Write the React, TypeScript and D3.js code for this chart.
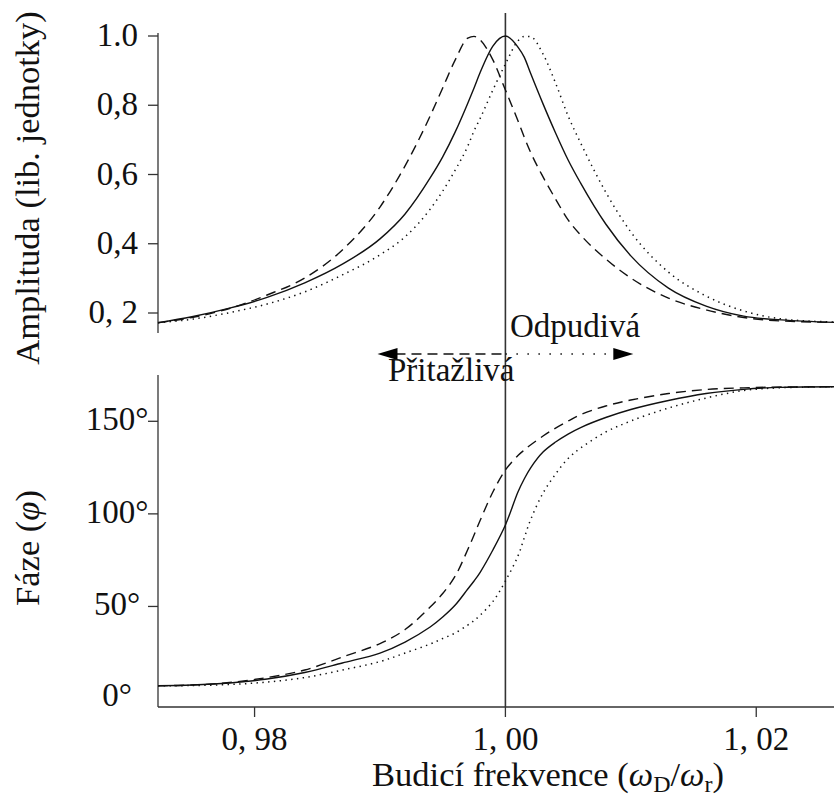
import React from 'react';
import * as d3 from 'd3';

// Driving frequency grid (omega_D / omega_r)
const freq = [0.9723, 0.975, 0.978, 0.981, 0.984, 0.987, 0.99, 0.992, 0.994, 0.995, 0.996, 0.997, 0.9975, 0.998, 0.999, 1.0, 1.001, 1.0015, 1.002, 1.003, 1.004, 1.005, 1.006, 1.008, 1.01, 1.013, 1.016, 1.019, 1.022, 1.0262];

// Amplitude (arb. units)
const ampSolid = [0.172, 0.189, 0.214, 0.245, 0.287, 0.341, 0.414, 0.486, 0.59, 0.651, 0.723, 0.806, 0.85, 0.896, 0.971, 1.0, 0.968, 0.939, 0.893, 0.804, 0.72, 0.642, 0.575, 0.457, 0.365, 0.272, 0.22, 0.191, 0.18, 0.173];
const ampDashed = [0.172, 0.187, 0.213, 0.252, 0.301, 0.382, 0.506, 0.625, 0.769, 0.85, 0.931, 0.994, 0.999, 0.988, 0.931, 0.844, 0.755, 0.708, 0.665, 0.593, 0.529, 0.469, 0.425, 0.356, 0.301, 0.243, 0.209, 0.187, 0.177, 0.173];
const ampDotted = [0.172, 0.182, 0.201, 0.226, 0.261, 0.31, 0.368, 0.42, 0.5, 0.552, 0.613, 0.682, 0.726, 0.763, 0.844, 0.919, 0.986, 0.999, 0.998, 0.948, 0.864, 0.769, 0.691, 0.549, 0.434, 0.318, 0.249, 0.206, 0.183, 0.174];

// Phase (degrees)
const phaseSolid = [7.18, 7.56, 8.64, 10.8, 14.31, 19.44, 24.84, 30.78, 38.89, 44.29, 50.77, 59.41, 63.73, 68.59, 80.47, 93.97, 111.79, 118.82, 124.76, 133.4, 138.8, 143.12, 146.63, 152.03, 156.35, 161.21, 164.99, 167.26, 168.34, 168.66];
const phaseDashed = [7.18, 7.56, 8.91, 11.61, 15.66, 22.68, 29.97, 37.53, 49.69, 56.98, 66.43, 80.74, 88.57, 96.67, 111.79, 123.68, 131.51, 134.48, 137.18, 142.04, 146.36, 150.14, 153.65, 158.24, 161.48, 164.99, 167.15, 168.07, 168.5, 168.66];
const phaseDotted = [7.18, 7.29, 7.83, 9.18, 11.61, 15.66, 20.25, 24.84, 29.7, 32.67, 35.65, 39.97, 42.4, 45.37, 52.66, 63.73, 77.23, 86.95, 96.67, 111.25, 121.52, 129.89, 135.56, 144.2, 150.14, 157.16, 162.56, 166.62, 168.12, 168.66];

const ampTicks = [0.2, 0.4, 0.6, 0.8, 1.0];
const ampTickLabels = ['0, 2', '0,4', '0,6', '0,8', '1.0'];
const phaseTicks = [0, 50, 100, 150];
const phaseTickLabels = ['0°', '50°', '100°', '150°'];
const phaseTickMarks = [50, 100, 150];
const freqTicks = [0.98, 1.0, 1.02];
const freqTickLabels = ['0, 98', '1, 00', '1, 02'];

const arrowLeft = 0.9898;
const arrowRight = 1.0102;

const W = 834;
const H = 803;
const FONT = "'Liberation Serif'";
const FS = 33;
const FT = 34.5;

export default function App() {
  const x = d3.scaleLinear().domain([0.9723, 1.0262]).range([158, 834]);
  const yA = d3.scaleLinear().domain([0.2, 1.0]).range([313, 36]);
  const yP = d3.scaleLinear().domain([-4.3, 175]).range([707, 375]);

  const pts = (ys: number[]) => freq.map((f, i) => [f, ys[i]] as [number, number]);
  const lineA = d3.line<[number, number]>().x(d => x(d[0])).y(d => yA(d[1])).curve(d3.curveMonotoneX);
  const lineP = d3.line<[number, number]>().x(d => x(d[0])).y(d => yP(d[1])).curve(d3.curveCatmullRom.alpha(0.5));

  const dashed = '10 6';
  const dotted = '1.4 4.4';
  const stroke = '#111';
  const axisColor = '#333';

  const x0 = x(1.0);
  const arrowY = 354;
  const xl = x(arrowLeft);
  const xr = x(arrowRight);
  const ts = { fontFamily: FONT } as React.CSSProperties;

  return (
    <svg width={W} height={H} style={{ position: 'absolute', left: 0, top: 0, background: '#fff' }}>
      <rect x={0} y={0} width={W} height={H} fill="#fff" />
      {/* Top panel axis */}
      <line x1={158} x2={158} y1={33} y2={333} stroke={axisColor} strokeWidth={1.3} />
      {ampTicks.map((t, i) => (
        <g key={'at' + i}>
          <line x1={148} x2={158} y1={yA(t)} y2={yA(t)} stroke={axisColor} strokeWidth={1.3} />
          <text style={ts} x={138} y={yA(t) + 10} textAnchor="end" fontSize={FS} fill="#111">{ampTickLabels[i]}</text>
        </g>
      ))}
      {/* Bottom panel axes */}
      <line x1={158} x2={158} y1={375} y2={707} stroke={axisColor} strokeWidth={1.3} />
      <line x1={158} x2={834} y1={707} y2={707} stroke={axisColor} strokeWidth={1.3} />
      {phaseTickMarks.map((t, i) => (
        <line key={'pm' + i} x1={148} x2={158} y1={yP(t)} y2={yP(t)} stroke={axisColor} strokeWidth={1.3} />
      ))}
      {phaseTicks.map((t, i) => (
        <text style={ts} key={'pt' + i} x={117} y={yP(t) + (t === 0 ? 7 : 9)} textAnchor="middle" fontSize={FS} fill="#111">{phaseTickLabels[i]}</text>
      ))}
      {freqTicks.map((t, i) => (
        <g key={'ft' + i}>
          <line x1={x(t)} x2={x(t)} y1={707} y2={717} stroke={axisColor} strokeWidth={1.3} />
          <text style={ts} x={x(t)} y={750} textAnchor="middle" fontSize={FS} fill="#111">{freqTickLabels[i]}</text>
        </g>
      ))}

      {/* Vertical resonance line */}
      <line x1={x0} x2={x0} y1={13} y2={707} stroke="#333" strokeWidth={1.6} />

      {/* Amplitude curves */}
      <path d={lineA(pts(ampSolid)) || ''} fill="none" stroke={stroke} strokeWidth={1.4} />
      <path d={lineA(pts(ampDashed)) || ''} fill="none" stroke={stroke} strokeWidth={1.4} strokeDasharray={dashed} />
      <path d={lineA(pts(ampDotted)) || ''} fill="none" stroke={stroke} strokeWidth={1.5} strokeDasharray={dotted} />

      {/* Phase curves */}
      <path d={lineP(pts(phaseSolid)) || ''} fill="none" stroke={stroke} strokeWidth={1.4} />
      <path d={lineP(pts(phaseDashed)) || ''} fill="none" stroke={stroke} strokeWidth={1.4} strokeDasharray={dashed} />
      <path d={lineP(pts(phaseDotted)) || ''} fill="none" stroke={stroke} strokeWidth={1.5} strokeDasharray={dotted} />

      {/* Arrows */}
      <line x1={xl + 18} x2={x0} y1={arrowY} y2={arrowY} stroke={stroke} strokeWidth={1.4} strokeDasharray="10 6" />
      <line x1={x0} x2={xr - 18} y1={arrowY} y2={arrowY} stroke={stroke} strokeWidth={1.5} strokeDasharray="1.5 9.5" />
      <path d={`M${xl},${arrowY} L${xl + 20},${arrowY - 6} L${xl + 20},${arrowY + 6} Z`} fill="#000" />
      <path d={`M${xr},${arrowY} L${xr - 20},${arrowY - 6} L${xr - 20},${arrowY + 6} Z`} fill="#000" />
      <text style={ts} x={510} y={337} fontSize={FS} fill="#111">Odpudivá</text>
      <text style={ts} x={388} y={381} fontSize={FS} fill="#111">Přitažlivá</text>

      {/* Axis titles */}
      <text style={ts} transform="translate(39,188) rotate(-90)" textAnchor="middle" fontSize={FT} fill="#111">Amplituda (lib. jednotky)</text>
      <text style={ts} transform="translate(39,548) rotate(-90)" textAnchor="middle" fontSize={FT} fill="#111">
        Fáze (<tspan fontStyle="italic">φ</tspan>)
      </text>
      <text style={ts} x={548} y={786} textAnchor="middle" fontSize={FT} fill="#111">
        Budicí frekvence (<tspan fontStyle="italic">ω</tspan><tspan fontSize={24} dy={6}>D</tspan><tspan dy={-6}>/</tspan><tspan fontStyle="italic">ω</tspan><tspan fontSize={24} dy={6}>r</tspan><tspan dy={-6}>)</tspan>
      </text>
    </svg>
  );
}
